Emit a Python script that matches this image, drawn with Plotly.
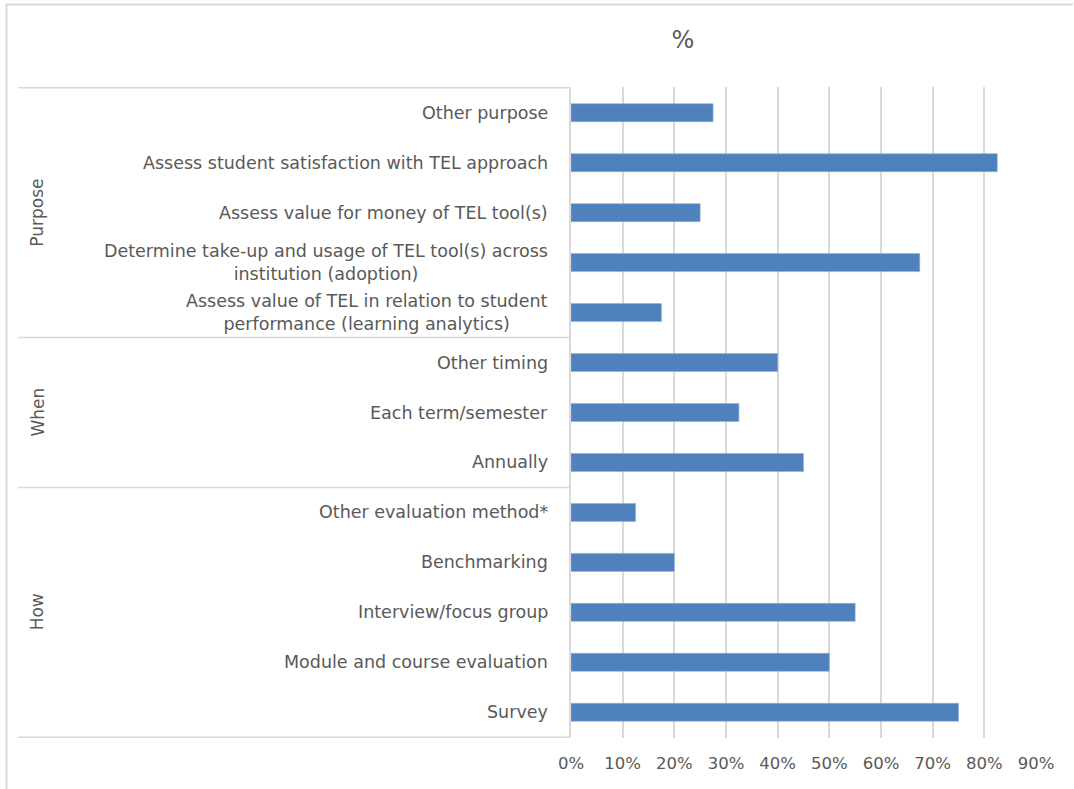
import plotly.graph_objects as go

# Survey results: share of institutions for each evaluation aspect
groups = ["Purpose", "When", "How"]
categories = [
    ["Other purpose",
     "Assess student satisfaction with TEL approach",
     "Assess value for money of TEL tool(s)",
     "Determine take-up and usage of TEL tool(s) across<br>institution (adoption)",
     "Assess value of TEL in relation to student<br>performance (learning analytics)"],
    ["Other timing",
     "Each term/semester",
     "Annually"],
    ["Other evaluation method*",
     "Benchmarking",
     "Interview/focus group",
     "Module and course evaluation",
     "Survey"],
]
values = [
    [0.275, 0.825, 0.25, 0.675, 0.175],
    [0.40, 0.325, 0.45],
    [0.125, 0.20, 0.55, 0.50, 0.75],
]
x_ticks = [0.0, 0.1, 0.2, 0.3, 0.4, 0.5, 0.6, 0.7, 0.8, 0.9]
x_ticklabels = ["0%", "10%", "20%", "30%", "40%", "50%", "60%", "70%", "80%", "90%"]

# Page geometry
W, H = 1074, 789
ML, MR, MT, MB = 571, 38, 87, 51
PW, PH = W - ML - MR, H - MT - MB

FONT = "DejaVu Sans"
GREY = "#595959"
LINE = "#d9d9d9"
BLUE = "#4f81bd"

labels = [c for grp in categories for c in grp]
vals = [v for grp in values for v in grp]


def px_x(px):
    return (px - ML) / PW


def px_y(py):
    return (H - MB - py) / PH


fig = go.Figure()
fig.add_trace(go.Bar(
    x=vals, y=labels, orientation="h",
    marker=dict(color=BLUE, line=dict(color="#8eaedb", width=0.6)),
    hoverinfo="x+y",
))

annotations = []
shapes = []

# Category labels, centred multi-line text right-aligned at the axis
for lab in labels:
    annotations.append(dict(
        x=0, xref="paper", y=lab, yref="y",
        text=lab, showarrow=False, xanchor="right", yanchor="middle",
        align="center", xshift=-21,
        font=dict(family=FONT, size=17.5, color=GREY),
    ))

# Group separators and rotated group names
start = 0
boundaries = [-0.5]
for g, grp in zip(groups, categories):
    end = start + len(grp)
    boundaries.append(end - 0.5)
    mid = (start + end - 1) / 2
    annotations.append(dict(
        x=px_x(37), xref="paper", y=mid, yref="y",
        text=g, showarrow=False, textangle=-90,
        xanchor="center", yanchor="middle",
        font=dict(family=FONT, size=17, color=GREY),
    ))
    start = end
for b in boundaries:
    shapes.append(dict(
        type="line", xref="paper", yref="y",
        x0=px_x(18), x1=0, y0=b, y1=b,
        line=dict(color=LINE, width=1.5), layer="below",
    ))

# Outer chart frame (top and left edges)
shapes.append(dict(type="line", xref="paper", yref="paper",
                   x0=px_x(6), x1=px_x(1073), y0=px_y(4.5), y1=px_y(4.5),
                   line=dict(color=LINE, width=2)))
shapes.append(dict(type="line", xref="paper", yref="paper",
                   x0=px_x(6.5), x1=px_x(6.5), y0=px_y(4), y1=px_y(H),
                   line=dict(color=LINE, width=2)))

fig.update_layout(
    width=W, height=H,
    margin=dict(l=ML, r=MR, t=MT, b=MB, pad=0),
    paper_bgcolor="white", plot_bgcolor="white",
    showlegend=False,
    bargap=0.64,
    title=dict(text="%", x=683 / W, xanchor="center", y=1 - 40 / H, yanchor="middle",
               font=dict(family=FONT, size=24, color=GREY)),
    xaxis=dict(
        range=[0, 0.9], tickvals=x_ticks, ticktext=x_ticklabels,
        showgrid=True, gridcolor=LINE, gridwidth=1.5,
        zeroline=False, showline=False, ticks="",
        ticklabelstandoff=13,
        tickfont=dict(family=FONT, size=16.5, color=GREY),
    ),
    yaxis=dict(
        categoryorder="array", categoryarray=labels,
        autorange="reversed",
        showticklabels=False, showgrid=False, zeroline=False,
        showline=True, linecolor=LINE, linewidth=1.5, ticks="",
    ),
    annotations=annotations,
    shapes=shapes,
)

fig.write_html("out.html")
